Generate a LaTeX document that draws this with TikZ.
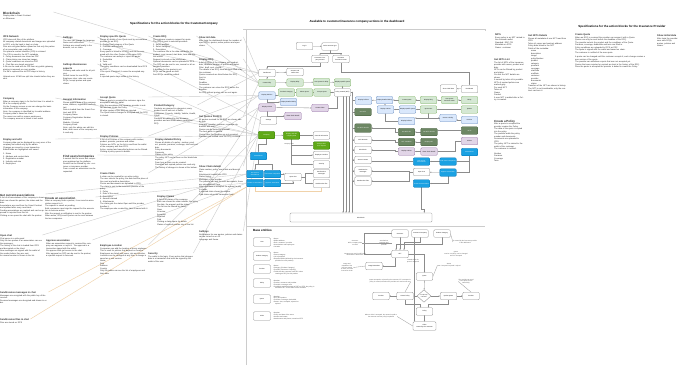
\documentclass[tikz,border=0pt]{standalone}
\usepackage{fontspec}
\setmainfont{Liberation Sans}
\usetikzlibrary{arrows.meta,shapes.geometric,calc}
\pgfdeclarelayer{bg}\pgfsetlayers{bg,main}

\definecolor{lgF}{HTML}{D5E8D4}\definecolor{lgD}{HTML}{82B366}
\definecolor{lbF}{HTML}{DAE8FC}\definecolor{lbD}{HTML}{6C8EBF}
\definecolor{lpF}{HTML}{E1D5E7}\definecolor{lpD}{HTML}{9673A6}
\definecolor{dgF}{HTML}{6D8764}\definecolor{dgD}{HTML}{3A5431}
\definecolor{bgF}{HTML}{60A917}\definecolor{bgD}{HTML}{2D7600}
\definecolor{bbF}{HTML}{1BA1E2}\definecolor{bbD}{HTML}{006EAF}
\definecolor{tanC}{HTML}{F0D2AA}

\newcommand\bodyf{\fontsize{2.0}{2.5}\selectfont}
\newcommand\hdf{\fontsize{2.4}{3.1}\selectfont\bfseries}
\newcommand\bighdf{\fontsize{2.95}{3.6}\selectfont\bfseries}
\newcommand\titlef{\fontsize{2.95}{3.5}\selectfont\bfseries}
\newcommand\nodef{\fontsize{1.5}{1.8}\selectfont}
\newcommand\hd[1]{{\hdf #1\par}}
\newcommand\bhd[1]{{\bighdf #1\par}}
\setlength\parskip{1.1pt}

\tikzset{
  spec/.style={anchor=north west, inner sep=0pt, align=left, font=\bodyf, text=black!85},
  box/.style={rounded corners=1pt, line width=0.35pt, minimum width=16.5pt, minimum height=7.5pt,
    inner sep=0.4pt, text width=15.5pt, align=center, font=\nodef},
  wbox/.style={box, draw=black!45, fill=white},
  lgbox/.style={box, draw=lgD, fill=lgF},
  lbbox/.style={box, draw=lbD, fill=lbF},
  lpbox/.style={box, draw=lpD, fill=lpF},
  dgbox/.style={box, draw=dgD, fill=dgF, text=white},
  bgbox/.style={box, draw=bgD, fill=bgF, text=white},
  bbbox/.style={box, draw=bbD, fill=bbF, text=white},
  conn/.style={draw=black!45, line width=0.3pt, -{Stealth[length=1.4pt,width=1.2pt]}},
  plain/.style={draw=black!40, line width=0.3pt},
  faintln/.style={draw=black!20, line width=0.4pt},
  tanln/.style={draw=tanC, line width=0.45pt},
  frameln/.style={draw=black!20, line width=0.7pt},
  note/.style={font=\fontsize{1.5}{1.85}\selectfont, align=center, inner sep=0pt, text=black!75},
  entbox/.style={wbox, minimum width=17pt, minimum height=8.5pt},
  bullets/.style={anchor=west, font=\fontsize{1.6}{1.95}\selectfont, align=left, inner sep=0pt, text=black!75},
}

\begin{document}
\begin{tikzpicture}[x=1pt,y=-1pt]
\begin{pgfonlayer}{bg}
\fill[white] (0,0) rectangle (680,365);
\end{pgfonlayer}
\useasboundingbox (0,0) rectangle (680,365);

% ---------------- titles
\node[font=\titlef, anchor=base] (ttlL) at (174,24.5) {Specifications for the action blocks for the CustomerCompany};
\node[font=\titlef, anchor=base] (ttlC) at (357,22) {Available to customer/insurance company actions in the dashboard};
\node[font=\titlef, anchor=base] (ttlR) at (622,27) {Specifications for the action blocks for the Insurance Provider};

% ---------------- customer company, column 1
\node[spec, text width=50pt] (sBlk) at (3,12) {{\fontsize{3.1}{3.8}\selectfont\bfseries Blockchain\par}
Display data in Smart Contract\\ on Ethereum};
\node[spec, text width=52pt] (sIpfs) at (3,36) {\hd{IPFS Network}
IPFS stores all files of the platform\par
All company related documents and images are uploaded to IPFS, only the hash is kept on chain.\par
Files are encrypted before upload so that only the parties of an association can read them.\par
On upload a content identifier (CID) is returned\par
The CID is saved in the NFT metadata\par
1. Policy documents are stored as PDF\par
2. Claim photos are stored as images\par
3. Quote conditions are stored as PDF\par
4. Chat files are stored encrypted\par
A file can be read with its CID from any public gateway, pinning is renewed on every update.\par
If a file is replaced the old CID stays in history.\par
\vspace{2pt}Uploads over 10 MB are split into chunks before they are sent.};
\node[spec, text width=52pt] (sComp) at (3,98) {\hd{Company}
When a company signs in for the first time it is asked to fill in the company profile.\par
On the Company screen a user can change the basic information of the company.\par
Note: the company is identified by its wallet address. Company data is saved on chain.\par
The owner can add or remove employees\par
The company account is linked to one wallet};
\node[spec, text width=52pt] (sDisp) at (3,139) {\hd{Display and edit}
Company data can be displayed by every user of the company but edited only by the admin.\par
Changes are saved in a new transaction\par
Edited fields are highlighted until saved\par
\vspace{1.5pt}1. Name\par
2. Address and contact data\par
3. Registration number\par
4. Industry and size\par
5. Employees};
\node[spec, text width=45pt] (sGca) at (0,194) {\bhd{Get current associations}
A list of all associations of the company is shown.\par
Each row shows the partner, the status and the date.\par
Associations are read from the Smart Contract and updated after every new block.\par
Pending associations are marked and can be approved or rejected from this list.\par
Clicking a row opens the chat with the partner.};
\node[spec, text width=42pt] (sOpen) at (0,235) {\hd{Open chat}
Chat opens in a side panel\par
Only the two parties of an association can see the messages.\par
The history of the chat is loaded from IPFS and decrypted on the client.\par
New messages are signed with the wallet of the sender before they are sent.\par
An unread counter is shown in the list.};
\node[spec, text width=48pt] (sMsg) at (0,292) {\hd{Send/receive messages in chat}
Messages are encrypted with the public key of the receiver.\par
Received messages are decrypted and shown in order.};
\node[spec, text width=30pt] (sFiles) at (0,319) {\hd{Send/receive files in chat}
Files are stored on IPFS};

% ---------------- column 2
\node[spec, text width=34pt] (sSet) at (63,37) {\hd{Settings}
The user can change the language, theme and notifications.\par
Settings are saved locally in the browser, not on chain.};
\node[spec, text width=34pt] (sBus) at (63,64) {\hd{Settings Businesses\\ aspects}
Currency and units used for all policies.\par
Default terms for new RFQs.\par
Employee roles: who can create RFQs, accept quotes and open claims.};
\node[spec, text width=34pt] (sGen) at (63,99) {\hd{General Information}
Shows general data of the company: name, address, registration and contact.\par
Data is loaded from the Smart Contract and IPFS.\par
Company Name\par
Company Registration Number\par
Address\par
Website / Contact\par
Company Email\par
Note: only the admin can edit this data; other users of the company see it read only.};
\node[spec, text width=34pt] (sFind) at (63,155) {\bhd{Find users/companies}
A search field for users and companies registered on the platform.\par
Results can be filtered by role: customer or insurance provider.\par
From a result an association can be requested.};
\node[spec, text width=50pt] (sCreA) at (45,197) {\bhd{Create an association}
When a company finds a partner, it can send an association request to it.\par
The request is saved as pending.\par
Both companies must sign the request for the association to become active.\par
After the request a notification is sent to the partner.\par
When active, RFQs and Quotes can be sent between the two companies.};
\node[spec, text width=46pt] (sAppr) at (46,240) {\hd{Approve association}
When an association request is received the company can approve or reject it. The approval is a transaction signed with the wallet.\par
On approve both get access to the chat.\par
After approval an RFQ can be sent to the partner; a rejected request is removed.};

% ---------------- column 3
\node[spec, text width=48pt] (sDsq) at (100,36) {\hd{Display specific Quote}
Shows all details of one Quote sent by an insurance provider for an RFQ.\par
1. Product and category of the Quote\par
2. Premium and currency\par
3. Coverage\par
Every quote is linked to its RFQ and can be compared with the other Quotes of the same RFQ.\par
The customer can accept or reject the quote.\par
4. Deductible\par
5. Term\par
6. Valid until\par
The policy conditions can be downloaded from IPFS as PDF.\par
If the quote is expired, it cannot be accepted anymore.\par
A rejected quote stays visible in the history.};
\node[spec, text width=48pt] (sAcc) at (100,97) {\hd{Accept Quote}
When a quote is accepted the customer signs the acceptance with the wallet.\par
After the acceptance the insurance provider is notified and can create the Policy.\par
All other quotes of the RFQ are rejected.\par
The Quote status changes to Accepted and the RFQ is closed.};
\node[spec, text width=48pt] (sDpol) at (100,136) {\hd{Display Policies}
A list of all Policies of the company with number, product, provider, premium and status.\par
Policies are NFTs, so the list is read from the wallet of the company and from IPFS.\par
Active, expired and cancelled policies can be filtered.\par
Clicking a policy opens its details.};
\node[spec, text width=48pt] (sCcl) at (100,173) {\hd{Create Claim}
A claim can be created for an active policy.\par
The user selects the policy, the date and the place of the event and adds a description.\par
Photos and documents are uploaded to IPFS.\par
The claim is sent to the insurance provider of the policy.\par
1. Policy\par
2. Date of the event\par
3. Description\par
4. Amount claimed\par
5. Attachments\par
The claim gets the status Open until the provider handles it.\par
The employee who created the claim is saved with it.};
\node[spec, text width=48pt] (sEmp) at (100,245) {\hd{Employee Location}
Companies can add the location of every employee. This is used for policies that depend on location.\par
Employees are listed with name, role and location.\par
Locations can be changed at any time; a change is saved as a new version.\par
Name\par
Role\par
Address\par
Country\par
Only the admin can see the list of employees and their data.};

% ---------------- column 4
\node[spec, text width=43pt] (sCrfq) at (153,36) {\hd{Create RFQ}
The customer creates a request for quote.\par
The RFQ is sent to selected providers.\par
1. Select product\par
2. Select category\par
3. Description\par
The customer fills in the data needed for the product: sum insured, start date, term and special wishes.\par
Request is stored on the blockchain\par
Optional documents can be uploaded to IPFS.\par
The RFQ can be sent to one, several or all associated providers.\par
A deadline for the quotes is set.\par
RFQs can be saved as draft.\par
Sent RFQs cannot be edited.};
\node[spec, text width=43pt] (sProd) at (154,105) {\hd{Product/Category}
Products are grouped in categories; every product has its own set of fields.\par
Categories: Property, Liability, Vehicle, Health, Cyber.\par
Products are defined by the insurance providers and are shown when creating an RFQ.};
\node[spec, text width=43pt] (sDdp) at (155,139) {\hd{Display detailed Policy}
Shows all details of a policy: number, product, provider, premium, coverage, start and end date.\par
Policy documents\par
Payments\par
Claims of the policy\par
The policy NFT can be seen on the blockchain explorer.\par
From here a claim can be created.\par
Cancelled and expired policies are read only.\par
The history of changes is shown at the bottom.};
\node[spec, text width=43pt] (sDcl) at (157,196) {\hd{Display Claims}
A list of all claims of the company.\par
Each row shows the claim number, the policy, the date, the amount and the status.\par
The list can be filtered by status:\par
Open\par
In review\par
Accepted\par
Rejected\par
Paid\par
Clicking a claim opens its details.\par
Claims of expired policies stay in the list.};
\node[spec, text width=45pt] (sSec) at (148,253) {\hd{Security}
The wallet is the login. Every action that changes data is a transaction that must be signed by the wallet of the user.};

% ---------------- column 5
\node[spec, text width=44pt] (sInit) at (199,37) {\hd{Show init data}
After login the dashboard shows the number of open RFQs, quotes, active policies and open claims.};
\node[spec, text width=44pt] (sDrfq) at (199,59) {\hd{Display RFQ}
A list of RFQs of the company with product, date, deadline, number of quotes and status.\par
Filter: draft, sent, closed.\par
The details of an RFQ show all fields filled in by the customer.\par
Quotes received are listed below the RFQ.\par
Sent to:\par
Status\par
Deadline\par
Documents\par
The customer can close the RFQ before the deadline.\par
An RFQ without quotes can be sent again.};
\node[spec, text width=44pt] (sGq) at (199,116) {\hd{Get Quotes for RFQ}
All quotes received for an RFQ are shown side by side.\par
Columns: provider, premium, coverage, deductible and term.\par
Quotes can be sorted by premium.\par
The best quote is marked.\par
Quotes after the deadline are not accepted.\par
Providers are notified once the RFQ is closed.};
\node[spec, text width=44pt] (sScl) at (199,166) {\hd{Show Claim details}
Claim number, policy, event date and description.\par
Attachments loaded from IPFS\par
Status history\par
Messages of the provider\par
The provider can ask for more documents; these are uploaded from here.\par
When the claim is accepted the amount to pay is shown.\par
A rejected claim shows the reason.\par
Paid claims show the transaction hash.};
\node[spec, text width=44pt] (sSet2) at (199,231) {\hd{Settings}
Notifications for new quotes, policies and claims can be turned on or off.\par
Language and theme.};

% ---------------- insurance provider
\node[spec, text width=30pt] (sNft) at (495,34) {\hd{NFTs}
Every policy is an NFT minted to the customer wallet.\par
Standard: ERC-721\par
Metadata on IPFS\par
Owner: customer};
\node[spec, text width=30pt] (sNftl) at (494,59) {\hd{Get NFTs List}
The list of NFTs of the insurance provider with owner, product and date.\par
NFTs can be filtered by product and status.\par
On click the NFT details are shown.\par
A search by token id is possible.\par
NFTs of expired policies are marked grey.\par
For each NFT:\par
Token id\par
Owner\par
Product\par
A new NFT is added after a Policy is created.};
\node[spec, text width=30pt] (sCpol) at (494,120) {\bhd{Create a Policy}
After a quote is accepted the provider creates the Policy.\par
The data of the quote is copied into the policy.\par
The provider adds the policy number and documents.\par
Documents are uploaded to IPFS.\par
The policy NFT is minted to the wallet of the customer.\par
The customer is notified.\par
\vspace{2pt}Number\par
Premium\par
Coverage\par
Term};
\node[spec, text width=40pt] (sNftd) at (528,35) {\hd{Get NFTs Details}
Shows all metadata of one NFT read from IPFS.\par
Token id, owner and contract address\par
Policy data linked to the NFT\par
Fields of the metadata:\par
{\setlength\parskip{0pt}
\hspace*{3pt}name\par\hspace*{3pt}description\par\hspace*{3pt}image\par\hspace*{3pt}policyNumber\par
\hspace*{3pt}product\par\hspace*{3pt}category\par\hspace*{3pt}premium\par\hspace*{3pt}coverage\par
\hspace*{3pt}startDate\par\hspace*{3pt}endDate\par\hspace*{3pt}customer\par\hspace*{3pt}provider\par
\hspace*{3pt}documents\par\hspace*{3pt}status\par}
Transfers of the NFT are shown in history.\par
The NFT is not transferable; only the contract can burn it.};
\node[spec, text width=72pt] (sCq) at (575,34) {\hd{Create Quote}
When an RFQ is received the provider can answer it with a Quote.\par
Quotes can only be sent before the deadline of the RFQ.\par
The provider selects the product and the conditions of the Quote.\par
Premium, coverage, deductible and term are filled in.\par
Policy conditions are uploaded to IPFS as PDF.\par
The quote is signed with the wallet and saved on chain.\par
The customer is notified of the new quote.\par
\vspace{2pt}A quote can be changed until the customer accepts it; each change creates a new version of the quote.\par
The provider can withdraw a quote that was not accepted yet.\par
Quotes that were rejected or expired are kept in the history of the RFQ.\par
Once the quote is accepted the provider is asked to create the Policy.};
\node[spec, text width=22pt] (sInit2) at (657,35) {\hd{Show initial data}
After login the provider sees new RFQs, quotes, policies and claims.};

% ---------------- dashboard frame
\draw[frameln] (246,365) -- (246,29) -- (485,29) -- (485,31);
\draw[frameln] (243,29) -- (246,29);
\draw[frameln] (246,226) -- (485,226);

% ---------------- dashboard, customer side
\node[wbox] (login) at (304.5,46) {Log in};
\node[wbox] (role) at (330,46.5) {Select account type};
\node[wbox] (custacc) at (320,59) {Customer Company account};
\node[wbox] (insacc) at (341,59) {Insurance Provider account};
\node[wbox] (dash) at (267,73) {Dashboard};
\node[wbox] (wallet) at (295,72) {Account and wallet data};
\node[lgbox] (crfq) at (267,83) {Create RFQ};
\node[lgbox] (drfq) at (295,82.5) {Display RFQ};
\node[lgbox] (gq) at (321.5,82) {Get Quotes for RFQ};
\node[lgbox] (dsq) at (342.5,82.5) {Display specific Quote};
\node[lbbox] (dpol) at (267,95.5) {Display Policies};
\node[lgbox] (prodc) at (286.5,92.5) {Product/ Category};
\node[lgbox] (selq) at (304.5,92.5) {Select Quote};
\node[lgbox] (accq) at (322,92.5) {Accept Quote};
\node[wbox] (mint) at (342.5,92.5) {Policy created (NFT)};
\node[lbbox] (ddpol) at (288.5,102) {Display detailed Policy};
\node[lpbox] (dclaims) at (267,107.5) {Display Claims};
\node[lpbox] (cclaim) at (320,108) {Create Claim};
\node[lpbox] (sclaim) at (293,116) {Show Claim details};
\node[wbox] (setl) at (268.5,120.5) {Settings};

\node[bgbox] (bg1) at (266.5,135) {Company};
\node[bgbox] (bg2) at (291.5,135.5) {Display and edit company data};
\node[wbox] (w1) at (321.5,135.5) {General Information};
\node[bgbox] (bg3) at (321.5,145.5) {Settings Business aspects};
\node[wbox] (w2) at (321.5,155) {Employee Location};
\node[wbox] (w3) at (321.5,164.5) {Security};
\node[wbox, minimum height=8.5pt] (w4) at (321.5,173.5) {Send/receive messages};
\node[wbox, minimum height=8.5pt] (w5) at (321.5,183.5) {Send/receive files};
\node[note] (cnote) at (289,144) {company data};
\node[bbbox] (bb1) at (258.5,156) {Associations};
\node[bbbox] (bb2) at (255,174) {Get current associations};
\node[bbbox] (bb3) at (272.5,174) {Find users/ companies};
\node[bbbox] (bb4) at (255,183) {Create an association};
\node[bbbox] (bb5) at (272.5,183) {Approve association};
\node[wbox] (chat) at (293,177) {Open chat};

% ---------------- dashboard, middle
\node[lbbox] (bl1) at (363.5,100.5) {Display Policies};
\node[lbbox] (bl2) at (384.5,100) {Display detailed Policy};
\node[lbbox] (bl3) at (385.5,109.5) {Display Claims};
\node[dgbox] (dg1) at (363,112) {Get NFTs};
\node[dgbox, minimum height=8.5pt] (dg2) at (363,128) {Get NFTs Details};
\node[wbox] (w6) at (363,140) {IPFS Network};
\node[wbox] (w7) at (363,150) {Blockchain};
\node[wbox] (w8) at (363,160) {Smart Contract};
\node[wbox, minimum height=8.5pt] (w9) at (363,171) {Send/receive messages};
\node[wbox, minimum height=8.5pt] (w10) at (363,181) {Send/receive files};

% ---------------- dashboard, insurance provider side
\node[wbox] (sinit) at (448.5,88.5) {Show initial data};
\node[wbox] (rdash) at (469.5,89) {Dashboard};
\node[lgbox] (g1) at (407,100) {Create Quote};
\node[lgbox] (g2) at (428.5,100) {Display RFQ};
\node[lgbox] (g3) at (449.5,100) {Get Quotes and their status};
\node[lgbox] (nfts) at (469.5,100) {RFQs};
\node[lbbox] (b1) at (407.5,109.5) {Display specific Quote};
\node[lgbox] (g4) at (428.5,109.5) {Quote sent};
\node[lbbox] (b2) at (448,118) {Create a Policy};
\node[lgbox] (quotes) at (469.5,109.5) {Quotes};
\node[lbbox] (b3) at (406.5,121) {Display Policies};
\node[lbbox] (policies) at (469.5,120) {Policies};
\node[dgbox] (dg3) at (406.5,132) {Get NFTs list};
\node[dgbox] (dg4) at (429,132) {Get NFTs Details};
\node[dgbox] (nftsR) at (469.5,130.5) {NFTs};
\node[dgbox] (dg5) at (406.5,142) {NFT metadata};
\node[dgbox] (dg6) at (429,142) {Display NFT};
\node[lpbox] (claimsR) at (469.5,141) {Claims};
\node[lpbox] (p1) at (406.5,151.5) {Display Claims};
\node[lpbox] (p2) at (429,151.5) {Show Claim details};
\node[bbbox] (acct) at (469.5,152) {Associations};
\node[bbbox] (bb6) at (421.5,161.5) {Get current associations};
\node[bbbox] (bb7) at (448,161.5) {Find users/ companies};
\node[wbox] (chatR) at (421.5,172) {Open chat};
\node[bbbox] (bb8) at (448,172.5) {Approve association};
\node[bbbox] (bb9) at (421.5,183.5) {Create an association};

\node[wbox, minimum width=142pt, text width=140pt, minimum height=9pt] (bar) at (361,217.5) {Blockchain};

% ---------------- base entities
\node[anchor=west, font=\fontsize{3}{3.6}\selectfont\bfseries, inner sep=0pt] (behd) at (253,230.5) {Base entities};
\node[entbox] (ent1) at (262,242) {User};
\node[entbox] (ent2) at (262,256) {Product Category};
\node[entbox] (ent3) at (262,269) {Product};
\node[entbox] (ent4) at (262,283) {Policy};
\node[entbox] (ent5) at (262,299) {Quote};
\node[entbox] (ent6) at (262,316) {Claim};
\node[bullets] (bu1) at (273,243) {\textbullet\ Name\\ \textbullet\ Wallet address\\ \textbullet\ Role: customer / provider\\ \textbullet\ Associations and employees\\ \textbullet\ Location};
\node[bullets] (bu2) at (273,257) {\textbullet\ Name\\ \textbullet\ Parent category\\ \textbullet\ List of products\\ \textbullet\ Required fields (defined by the insurance\\ \hspace*{2pt}provider for each product)};
\node[bullets] (bu3) at (273,270) {\textbullet\ Name\\ \textbullet\ Category (Product Category)\\ \textbullet\ Provider (Insurance Company)\\ \textbullet\ Fields that the customer must fill in when\\ \hspace*{2pt}creating an RFQ for this product};
\node[bullets] (bu4) at (273,284.5) {\textbullet\ Number\\ \textbullet\ Product, customer and provider\\ \textbullet\ Premium, coverage, term\\ \textbullet\ Conditions and documents as PDF on IPFS; the policy is\\ \hspace*{2pt}minted as NFT to the wallet of the customer};
\node[bullets] (bu5) at (273,300.5) {\textbullet\ Number\\ \textbullet\ RFQ and product\\ \textbullet\ Premium, coverage, deductible\\ \textbullet\ Status: sent, accepted, rejected or\\ \hspace*{2pt}expired};
\node[bullets] (bu6) at (273,316.5) {\textbullet\ Number\\ \textbullet\ Policy and date of the event\\ \textbullet\ Amount and status\\ \textbullet\ Attachments and photos, stored on IPFS};

% ---------------- base entities, relations
\node[wbox] (eCust) at (400,233.5) {Customer};
\node[wbox] (eIns) at (420,233.5) {Insurance Company};
\node[wbox] (ePcat) at (442,233.5) {Product Category};
\node[wbox] (eNft) at (400,254) {NFT};
\node[wbox] (eMeta) at (374,266) {Image/ Metadata};
\node[wbox] (eQuo) at (424.5,276.5) {Quote};
\node[diamond, draw=black!45, fill=white, line width=0.35pt, inner sep=0pt, minimum width=14pt, minimum height=12.5pt, align=center, font=\fontsize{1.3}{1.5}\selectfont] (eDec) at (424,296) {accepted by\\ customer?};
\node[wbox] (eCpol) at (405,296) {Create Policy};
\node[wbox] (eProdA) at (381,296) {Product};
\node[wbox] (eRej) at (448.5,296) {Update Quote};
\node[wbox] (eProdB) at (471,296) {Product};
\node[wbox] (ePol) at (424.5,311.5) {Policy};
\node[wbox, minimum width=23pt, text width=22pt, minimum height=8.5pt] (eClm) at (424.5,326) {Claim\\ created by the customer};

\node[note] (n1) at (355,243) {Customer\\ NFTs, company data\\ on chain};
\node[note] (n2) at (384,243) {associations\\ customer and\\ provider};
\node[note] (n3) at (355,254.5) {Customer can see his NFTs and\\ download the documents};
\node[note] (n4) at (347,267.5) {Image and\\ metadata of the\\ NFT are stored\\ on IPFS, the hash\\ is saved on chain};
\node[note] (n5) at (465,242) {is created by the insurance provider\\ in the dashboard};
\node[note] (n6) at (456,254) {Quote\\ sent for one RFQ, can be changed\\ until it is accepted};
\node[note] (n7) at (449,265.5) {Status\\ sent / accepted / rejected / expired};
\node[note] (n8) at (413,261) {created when the\\ quote is accepted};
\node[note] (n9) at (390,281.5) {Quote accepted or rejected by the customer; if it is accepted a\\ policy is created, otherwise the provider can send a new one};
\node[note] (n10) at (466,281.5) {The provider can send\\ a new quote for the\\ same RFQ};
\node[note] (n11) at (381,316.5) {When a claim is accepted, the amount is paid to\\ the customer and the policy is updated};

% ---------------- connectors
\begin{pgfonlayer}{bg}
% from the specifications to the dashboard
\foreach \a/\b in {sBlk/dash, sIpfs/dash, sInit/dash, sProd/dash, sDsq/crfq, sCrfq/crfq, sDrfq/crfq, sGq/crfq,
  sAcc/dpol, sDpol/dpol, sDdp/dpol, sCcl/dclaims, sDcl/dclaims, sScl/dclaims, sSet/setl, sSet2/setl,
  sComp/bg1, sGen/bg1, sBus/bg1, sDisp/bg1, sEmp/bg1, sSec/bg1, sFind/bb1, sGca/bb2, sOpen/bb2, sCreA/bb4, sAppr/bb4}
  \draw[faintln] (\a.north east) -- (\b.west);
\draw[tanln] (sMsg.north east) -- (bb4.south west);
\draw[tanln] (sFiles.north east) -- (bb4.south west);
\draw[tanln] (bb4.south) -- ++(0,4) -| (w5.south);

% customer side
\draw[conn] (login) -- (role);
\draw[conn] (role.south) -- ++(0,2.5) -| (custacc.north);
\draw[conn] (role.south) -- ++(0,2.5) -| (insacc.north);
\draw[conn] (custacc.south) -- ++(0,3) -| (dash.north);
\draw[conn] (insacc.south) -- ++(0,9.5) -| (rdash.north);
\draw[conn] (dash) -- (wallet);
\draw[conn] (dash) -- (crfq);
\draw[conn] (crfq) -- (drfq);
\draw[conn] (drfq) -- (gq);
\draw[conn] (gq) -- (dsq);
\draw[conn] (dsq) -- (mint);
\draw[conn] (prodc) -- (selq);
\draw[conn] (selq) -- (accq);
\draw[conn] (accq) -- (mint);
\draw[conn] (dpol.east) -- (dpol.east -| prodc.west);
\draw[conn] (dpol.south) |- (ddpol.west);
\draw[conn] (dclaims) -- (cclaim);
\draw[conn] (dclaims.south) |- (sclaim.west);
\draw[conn] (cclaim.east) -| ($(mint.south)+(-5,0)$);
\foreach \s in {0.5,3.5,6.5}
  \draw[conn] ($(mint.south)+(\s,0)$) -- ($(mint.south |- bar.north)+(\s,0)$);

\draw[conn] (bg1) -- (bg2);
\draw[conn] (bg2) -- (w1);
\draw[conn] (bg2.south) |- (bg3.west);
\draw[conn] (bg2.south) |- (w2.west);
\draw[conn] (bg2.south) |- (w3.west);
\draw[conn] (bg1.south) -- ++(0,5) -| (bb1.north);
\draw[conn] (bb1.south) -- ++(0,4) -| (bb2.north);
\draw[conn] (bb1.south) -- ++(0,4) -| (bb3.north);
\draw[conn] (bb3.east) -- (bb3.east -| chat.west);
\draw[conn] (bb5.east) -| (chat.south);
\draw[conn] (chat.east) -- ++(4,0) |- (w4.west);
\draw[conn] (chat.east) -- ++(4,0) |- (w5.west);

% middle
\draw[conn] (bl2) -- (bl1);
\draw[conn] (bl2) -- (bl3);
\draw[conn] (bl1.west) -- ++(-2.5,0) |- (mint.east);
\draw[conn] (dg1.west) -- ++(-2.5,0) |- (mint.east);
\draw[conn] (dg2.west) -- ++(-2.5,0) |- (mint.east);
\coordinate (mx) at (352.5,96);
\draw[plain] (mx) -- (mx |- w10.west);
\foreach \n in {w6,w7,w8,w9,w10}
  \draw[conn] (mx |- \n.west) -- (\n.west);
\draw[conn] (mx |- w10.west) -- (mx |- bar.north);

% insurance provider side
\draw[conn] (rdash) -- (sinit);
\draw[conn] (nfts) -- (g3);
\draw[conn] (g3) -- (g2);
\draw[conn] (g2) -- (g1);
\draw[conn] (g1) -- (bl2);
\draw[conn] (quotes) -- (g4);
\draw[conn] (g4) -- (b1);
\draw[conn] (b1) -- (bl3);
\draw[conn] (g4.south) |- (b2.west);
\draw[conn] (policies.west) -- (policies.west -| b2.east);
\draw[conn] (b2) -- (b2 -| b3.east);
\draw[conn] (b3.west) -| (bl3.south);
\draw[conn] (nftsR.west) -- (nftsR.west -| dg4.east);
\draw[conn] (dg4) -- (dg3);
\draw[conn] (dg3.west) -- ++(-3,0) |- (dg2.east);
\draw[conn] (dg6) -- (dg5);
\draw[conn] (dg5.west) -- ++(-3,0) |- (w6.east);
\draw[conn] (claimsR.west) -- ++(-6,0) |- (p2.east);
\draw[conn] (p2) -- (p1);
\draw[conn] (p1.west) -- ++(-3,0) |- (w7.east);
\draw[conn] (acct.south) |- (bb7.east);
\draw[conn] (acct.south) |- (bb8.east);
\draw[conn] (bb7) -- (bb6);
\draw[conn] (bb6) -- (bb6 -| w8.east);
\draw[conn] (bb8) -- (chatR);
\draw[conn] (bb8.south) |- (bb9.east);
\draw[conn] (chatR.west) -- ++(-4,0) |- (w9.east);
\draw[conn] (chatR.west) -- ++(-4,0) |- (w10.east);
\draw[conn] (bb9.south) |- ($(bar.north east)+(-8,-4)$) -- ($(bar.north east)+(-8,0)$);

% base entities relations
\draw[conn] (eCust) -- (eNft);
\draw[conn] (eIns.south) -- ++(0,5) -| ($(eNft.north)+(4,0)$);
\draw[conn] (ePcat.south) -- ++(0,7) -| ($(eNft.north)+(-4,0)$);
\draw[conn] (eCust.west) -- ++(-27,0) |- (eNft.west);
\draw[conn] ($(eNft.south)+(-5,0)$) |- (eMeta.east);
\draw[conn] (eNft.east) -| (eQuo.north);
\draw[conn] ($(eIns.south)+(-5.5,0)$) -- ($(eIns.south |- eClm.north)+(-5.5,0)$);
\draw[conn] (eQuo) -- (eDec);
\draw[conn] (eDec) -- (eCpol);
\draw[conn] (eDec) -- (eRej);
\draw[conn] (eCpol) -- (eProdA);
\draw[conn] (eRej) -- (eProdB);
\draw[conn] (eCpol.south) -- ++(0,4) -| ($(ePol.north)+(-4,0)$);
\draw[conn] (eRej.south) -- ++(0,4) -| ($(ePol.north)+(4,0)$);
\draw[conn] (ePol) -- (eClm);
\draw[plain] (n1.east) -- (eCust.west |- n1.east);
\draw[plain] (n4.east) -- (eMeta.west);
\draw[plain] (n9.east) -- (eCpol.north);
\draw[plain] (n10.west) -- (eProdB.north);
\draw[plain] (n11.east) -- (eClm.west);
\draw[plain] (n5.west) -- (ePcat.east);
\draw[plain] (n7.west) -- (eQuo.east);
\end{pgfonlayer}
\end{tikzpicture}
\end{document}
